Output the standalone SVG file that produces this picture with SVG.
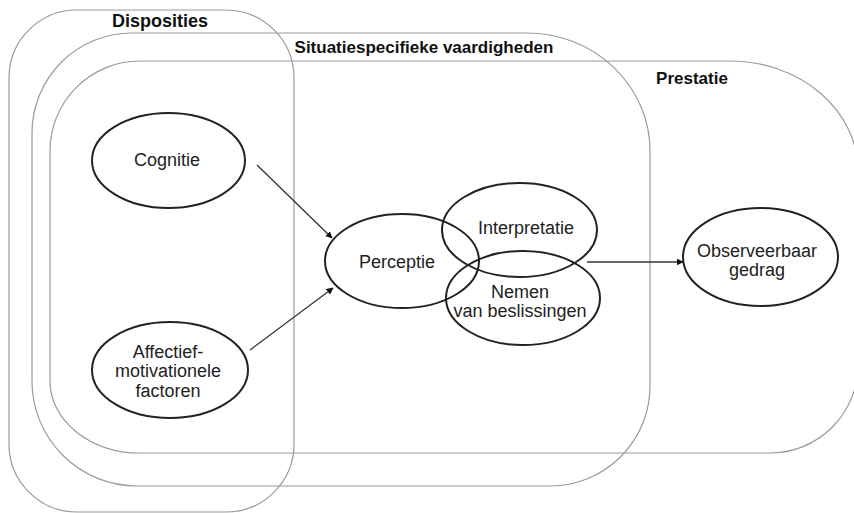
<svg xmlns="http://www.w3.org/2000/svg" width="854" height="513" viewBox="0 0 854 513">
<style>
.box{fill:none;stroke:#9a9a9a;stroke-width:1.2}
.node{fill:none;stroke:#222;stroke-width:2}
.title{font-family:"Liberation Sans",Arial,sans-serif;font-weight:bold;font-size:17px;fill:#111}
.lbl{font-family:"Liberation Sans",Arial,sans-serif;font-size:18px;fill:#222;text-anchor:middle}
.conn{stroke:#333;stroke-width:1.3;fill:none;marker-end:url(#ah)}
</style>
<defs>
<marker id="ah" viewBox="0 0 10 10" refX="9" refY="5" markerWidth="7" markerHeight="7" markerUnits="userSpaceOnUse" orient="auto">
<path d="M0,0 L10,5 L0,10 z" fill="#111"/>
</marker>
</defs>
<rect width="854" height="513" fill="#fff"/>
<g id="disposities">
<path class="box" d="M77,10 H226 A68,68 0 0 1 294,78 V444 A68,68 0 0 1 226,512 H77 A68,68 0 0 1 9,444 V78 A68,68 0 0 1 77,10 Z"/>
<text class="title" x="160" y="27" text-anchor="middle" style="font-size:18px">Disposities</text>
</g>
<g id="situatie">
<path class="box" d="M132,33 H527 A123,118 0 0 1 650,151 V386 A100,100 0 0 1 550,486 H137 A105,105 0 0 1 32,381 V133 A100,100 0 0 1 132,33 Z"/>
<text class="title" x="424" y="53" text-anchor="middle">Situatiespecifieke vaardigheden</text>
</g>
<g id="prestatie">
<path class="box" d="M140,61 H730 A128,110 0 0 1 858,171 V365 A88,88 0 0 1 770,453 H140 A90,72 0 0 1 50,381 V151 A90,90 0 0 1 140,61 Z"/>
<text class="title" x="692" y="84" text-anchor="middle">Prestatie</text>
</g>
<g id="cognitie">
<ellipse class="node" cx="168.5" cy="160.5" rx="76.5" ry="47.5"/>
<text class="lbl" x="167" y="166">Cognitie</text>
</g>
<g id="affectief">
<ellipse class="node" cx="170" cy="370" rx="78" ry="48"/>
<text class="lbl" x="168" y="358">Affectief-</text>
<text class="lbl" x="168" y="377">motivationele</text>
<text class="lbl" x="168" y="397">factoren</text>
</g>
<g id="perceptie">
<ellipse class="node" cx="402" cy="261" rx="77" ry="47"/>
<text class="lbl" x="397" y="268">Perceptie</text>
</g>
<g id="interpretatie">
<ellipse class="node" cx="519.5" cy="230" rx="77.5" ry="47"/>
<text class="lbl" x="526" y="234">Interpretatie</text>
</g>
<g id="nemen">
<ellipse class="node" cx="523" cy="298" rx="77" ry="47"/>
<text class="lbl" x="520" y="298">Nemen</text>
<text class="lbl" x="520" y="317">van beslissingen</text>
</g>
<g id="observeerbaar">
<ellipse class="node" cx="760.5" cy="257" rx="77.5" ry="49"/>
<text class="lbl" x="757" y="257">Observeerbaar</text>
<text class="lbl" x="757" y="276">gedrag</text>
</g>
<g id="connectors">
<line class="conn" x1="257" y1="165" x2="332" y2="238"/>
<line class="conn" x1="250" y1="350" x2="333" y2="288"/>
<line class="conn" x1="587" y1="262" x2="683" y2="262"/>
</g>
</svg>
